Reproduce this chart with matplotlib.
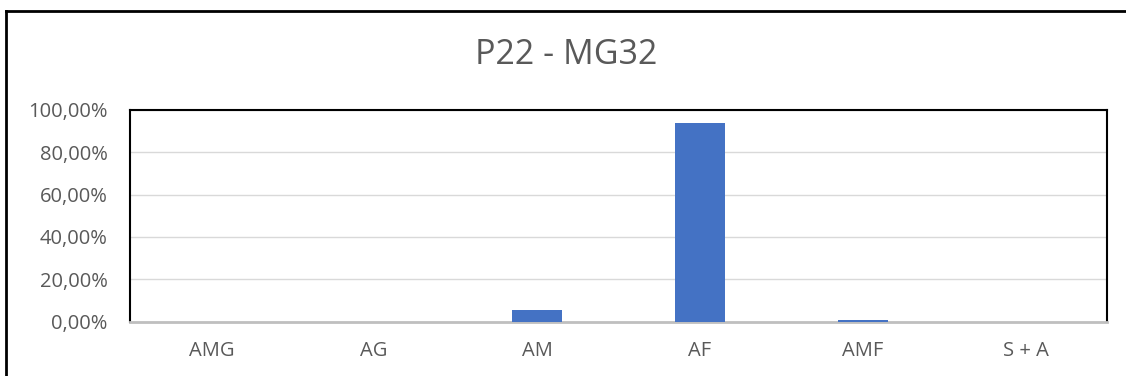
import matplotlib.pyplot as plt
from matplotlib.lines import Line2D
from matplotlib.ticker import FuncFormatter

categories = ['AMG', 'AG', 'AM', 'AF', 'AMF', 'S + A']
values = [0.0, 0.0, 5.3, 93.7, 0.9, 0.0]
yticks = [0, 20, 40, 60, 80, 100]
title = 'P22 - MG32'

W, H = 1126, 376
plt.rcParams['font.family'] = ['Open Sans', 'DejaVu Sans']

fig = plt.figure(figsize=(W / 100, H / 100), dpi=100)
ax = fig.add_axes([130 / W, 1 - 321.5 / H, (1107 - 130) / W, (321.5 - 110) / H])

ax.bar(range(len(categories)), values, width=0.31, color='#4472C4', zorder=3)

ax.set_xlim(-0.5, len(categories) - 0.5)
ax.set_ylim(0, 100)
ax.set_yticks(yticks)
ax.yaxis.set_major_formatter(FuncFormatter(lambda v, p: f'{v:.2f}'.replace('.', ',') + '%'))
ax.set_xticks(range(len(categories)))
ax.set_xticklabels(categories)
ax.tick_params(axis='both', length=0, labelsize=14.5, colors='#595959')
ax.tick_params(axis='y', pad=16)
ax.tick_params(axis='x', pad=14)
ax.grid(axis='y', color='#D9D9D9', linewidth=1, zorder=0)

for side in ['top', 'left', 'right']:
    ax.spines[side].set_color('black')
    ax.spines[side].set_linewidth(1.5)
ax.spines['bottom'].set_color('#BFBFBF')
ax.spines['bottom'].set_linewidth(2)

fig.text(566 / W, 1 - 55 / H, title, ha='center', va='center',
         fontsize=24.5, color='#595959')

# chart area frame (only left and top edges fall inside the image)
fig.add_artist(Line2D([6 / W, 6 / W], [0, 1 - 11 / H], color='black', lw=2))
fig.add_artist(Line2D([6 / W, 1], [1 - 11 / H, 1 - 11 / H], color='black', lw=2))

fig.savefig('out.png', dpi=100)
